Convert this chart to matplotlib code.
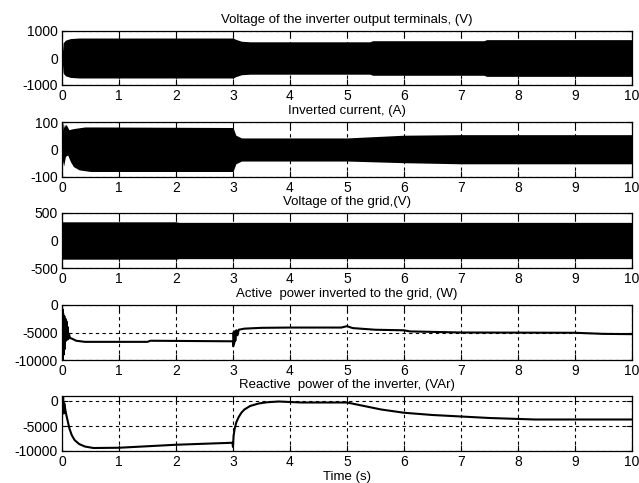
import matplotlib
matplotlib.use("Agg")
import matplotlib.pyplot as plt

plt.rcParams['font.family'] = ['Liberation Sans', 'DejaVu Sans']
plt.rcParams['font.size'] = 10
plt.rcParams['axes.unicode_minus'] = False

# Voltage of the inverter output terminals: envelope of the 50 Hz signal
v_inv_t = [0, 0.02, 0.06, 0.15, 0.3, 3.0, 3.05, 3.15, 3.3, 5.4, 5.45, 7.4, 7.45, 10]
v_inv_amp = [0, 560, 660, 720, 740, 740, 690, 620, 600, 600, 640, 640, 680, 680]

# Inverted current envelope (upper / lower)
i_up_t = [0, 0.01, 0.02, 0.04, 0.06, 0.09, 0.12, 0.2, 0.4, 0.6, 3.0, 3.05, 3.15, 5.0, 5.5, 6.0, 7.0, 10]
i_up = [100, 70, 98, 80, 92, 85, 72, 76, 82, 82, 80, 52, 42, 42, 47, 52, 54, 54]
i_lo_t = [0, 0.015, 0.03, 0.06, 0.1, 0.15, 0.2, 0.3, 0.5, 3.0, 3.05, 3.15, 5.0, 6.0, 7.0, 10]
i_lo = [-100, -40, -60, -25, -20, -45, -62, -74, -80, -80, -52, -42, -42, -48, -52, -52]

# Voltage of the grid envelope
v_grid_t = [0, 2.0, 2.05, 10]
v_grid_amp = [340, 340, 330, 330]

# Active power inverted to the grid (W)
p_t = [0, 0.005, 0.01, 0.015, 0.02, 0.03, 0.04, 0.05, 0.06, 0.07, 0.08, 0.09, 0.1, 0.11,
       0.12, 0.14, 0.17, 0.25, 0.4, 1.5, 1.55, 3.0, 3.005, 3.01, 3.02, 3.03, 3.04, 3.06,
       3.08, 3.1, 3.2, 3.5, 4.0, 4.9, 5.0, 5.1, 5.5, 6.0, 6.1, 7.0, 9.0, 9.5, 10]
p_val = [0, -10000, -800, -9800, -1500, -9000, -2000, -8000, -2500, -6500, -3000, -6300,
         -4000, -6200, -5200, -6000, -6100, -6500, -6700, -6700, -6500, -6600, -7500, -5000,
         -7000, -4800, -6500, -4600, -5500, -4500, -4300, -4150, -4100, -4100, -3850, -4200,
         -4500, -4600, -4800, -5000, -5050, -5250, -5300]

# Reactive power of the inverter (VAr)
q_t = [0, 0.01, 0.02, 0.03, 0.04, 0.05, 0.07, 0.1, 0.13, 0.17, 0.22, 0.3, 0.4, 0.55, 1.0,
       2.0, 2.99, 3.0, 3.01, 3.03, 3.06, 3.1, 3.15, 3.2, 3.3, 3.45, 3.6, 3.8, 3.9, 4.2, 5.0,
       5.3, 5.6, 6.0, 6.5, 7.0, 7.5, 8.3, 10]
q_val = [1000, -1500, 800, -2500, -500, -1200, -2500, -4000, -5500, -6800, -7800, -8600,
         -9100, -9400, -9350, -8750, -8350, -9200, -7000, -5500, -4200, -3200, -2300, -1700,
         -1000, -500, -250, -100, -150, -300, -300, -1000, -1700, -2350, -2800, -3100, -3400,
         -3700, -3700]

titles = ['Voltage of the inverter output terminals, (V)',
          'Inverted current, (A)',
          'Voltage of the grid,(V)',
          'Active  power inverted to the grid, (W)',
          'Reactive  power of the inverter, (VAr)']
y_limits = [(-1000, 1000), (-100, 100), (-500, 500), (-10000, 0), (-10000, 1000)]
y_ticks = [[-1000, 0, 1000], [-100, 0, 100], [-500, 0, 500], [-10000, -5000, 0], [-10000, -5000, 0]]
x_ticks = list(range(0, 11))

W, H = 639, 483
fig = plt.figure(figsize=(W / 100, H / 100), dpi=100)
left_px, right_px = 62, 632
panels_px = [(31, 85), (122, 177), (213, 268), (305, 360), (396, 451)]

axes = []
for (top, bot), title, ylim, yt in zip(panels_px, titles, y_limits, y_ticks):
    ax = fig.add_axes([left_px / W, 1 - bot / H, (right_px - left_px) / W, (bot - top) / H])
    ax.set_xlim(0, 10)
    ax.set_ylim(*ylim)
    ax.set_xticks(x_ticks)
    ax.set_yticks(yt)
    ax.set_axisbelow(True)
    ax.grid(True, color='black', linestyle=(0, (3, 3)), linewidth=0.8)
    ax.tick_params(direction='in', length=4, top=True, right=True, pad=3, labelsize=10)
    ax.set_title(title, fontsize=9.5, pad=6)
    for s in ax.spines.values():
        s.set_linewidth(0.9)
    axes.append(ax)

axes[0].fill_between(v_inv_t, [-a for a in v_inv_amp], v_inv_amp, color='black', linewidth=0)
axes[1].fill_between(i_up_t, 0, i_up, color='black', linewidth=0)
axes[1].fill_between(i_lo_t, i_lo, 0, color='black', linewidth=0)
axes[2].fill_between(v_grid_t, [-a for a in v_grid_amp], v_grid_amp, color='black', linewidth=0)
axes[3].plot(p_t, p_val, color='black', linewidth=1.5)
axes[4].plot(q_t, q_val, color='black', linewidth=1.5)

axes[4].set_xlabel('Time (s)', fontsize=9.5, labelpad=1)

fig.savefig('out.png', dpi=100)
